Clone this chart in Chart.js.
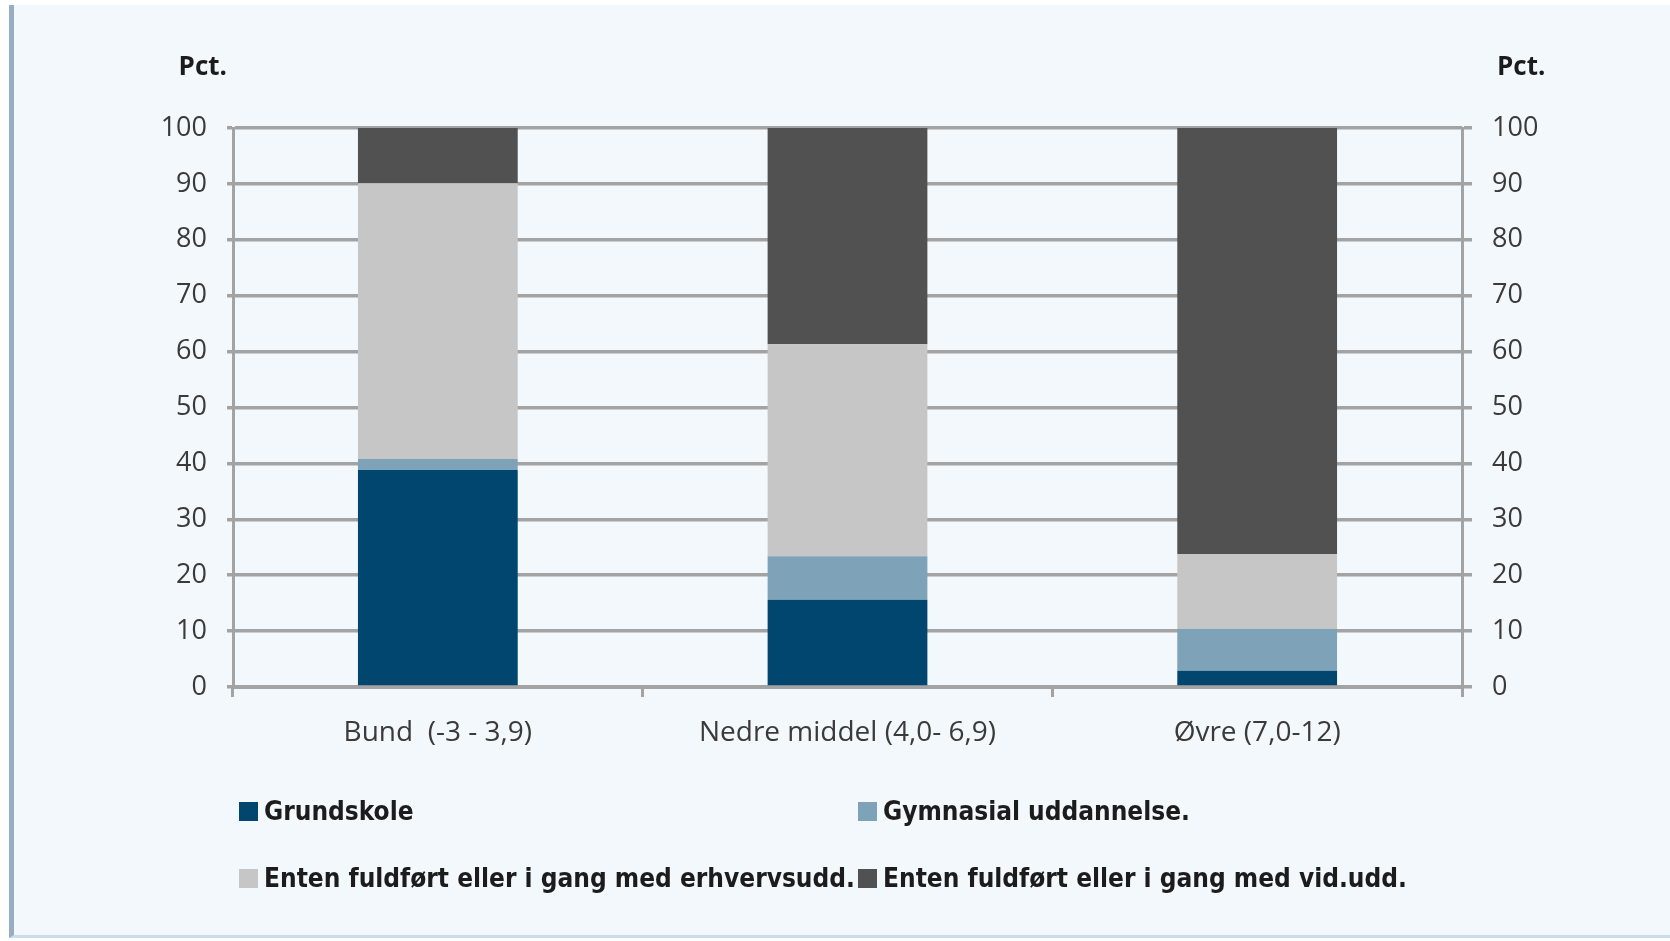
<!DOCTYPE html>
<html>
<head>
<meta charset="utf-8">
<script src="https://cdn.jsdelivr.net/npm/chart.js@4.4.1/dist/chart.umd.min.js"></script>
<style>
  html, body { margin: 0; padding: 0; background: #ffffff; }
  #frame { position: absolute; left: 9px; top: 5px; width: 1661px; height: 933px;
           background: #f3f8fc; border-left: 5px solid #97adc2; border-bottom: 3px solid #c9dcea; box-sizing: border-box; }
  #wrap { position: absolute; left: 0; top: 0; width: 1670px; height: 941px; }
  #legend { position: absolute; left: 0; top: 0; width: 1670px; height: 941px; pointer-events: none;
            font-family: "Liberation Sans Narrow", "DejaVu Sans Condensed", sans-serif; font-weight: bold;
            font-size: 26px; color: #1c1c1c; }
  .li { position: absolute; display: flex; align-items: center; white-space: nowrap; transform: translateY(-50%); }
  .sw { width: 19px; height: 19px; margin-right: 6px; flex: none; }
</style>
</head>
<body>
<div id="frame"></div>
<div id="wrap"><canvas id="c" width="1670" height="941"></canvas></div>
<div id="legend"></div>
<script>
// ---- data ----
const categories = ["Bund  (-3 - 3,9)", "Nedre middel (4,0- 6,9)", "Øvre (7,0-12)"];
const seriesNames = ["Grundskole", "Gymnasial uddannelse.", "Enten fuldført eller i gang med erhvervsudd.", "Enten fuldført eller i gang med vid.udd."];
const grundskole = [38.8, 15.6, 2.9];
const gymnasial = [2.0, 7.8, 7.5];
const erhvervsudd = [49.3, 37.9, 13.4];
const vidudd = [9.9, 38.7, 76.2];
const yTicks = [0, 10, 20, 30, 40, 50, 60, 70, 80, 90, 100];
const axisUnit = "Pct.";

// ---- styles ----
const colors = ["#00466e", "#7ea2b8", "#c6c6c6", "#515151"];
const seriesValues = [grundskole, gymnasial, erhvervsudd, vidudd];

const datasets = seriesNames.map((name, i) => ({
  label: name,
  data: seriesValues[i],
  backgroundColor: colors[i],
  borderWidth: 0,
  barPercentage: 0.39,
  categoryPercentage: 1.0,
  yAxisID: 'y'
}));

const tickFont = { family: "'Open Sans', 'Noto Sans', sans-serif", size: 27 };
const xTickFont = { family: "'Open Sans', 'Noto Sans', sans-serif", size: 28 };
const gridColor = "#a3a3a3";

const pctPlugin = {
  id: 'pct',
  afterDraw(chart) {
    const ctx = chart.ctx, a = chart.chartArea;
    ctx.save();
    ctx.font = "bold 26px 'Open Sans', 'Noto Sans', sans-serif";
    ctx.fillStyle = "#1c1c1c";
    ctx.textBaseline = 'middle';
    ctx.textAlign = 'right';
    ctx.fillText(axisUnit, a.left - 6, a.top - 60);
    ctx.textAlign = 'left';
    ctx.fillText(axisUnit, a.right + 35, a.top - 60);
    ctx.restore();
  }
};

Chart.defaults.color = "#3a3a3a";

new Chart(document.getElementById('c'), {
  type: 'bar',
  data: { labels: categories, datasets },
  options: {
    responsive: false,
    animation: false,
    devicePixelRatio: 1,
    layout: { padding: { left: 0, right: 0, top: 128, bottom: 0 } },
    plugins: { legend: { display: false }, tooltip: { enabled: false } },
    scales: {
      x: {
        stacked: true,
        grid: { display: true, drawOnChartArea: false, offset: true, tickLength: 10, color: gridColor, lineWidth: 3 },
        border: { display: true, color: gridColor, width: 4 },
        ticks: { font: xTickFont, padding: 19, color: "#3a3a3a", maxRotation: 0 },
        afterFit(s) { s.height = 254; }
      },
      y: {
        stacked: true,
        position: 'left',
        min: 0, max: 100,
        afterBuildTicks(s) { s.ticks = yTicks.map(v => ({ value: v })); },
        grid: { color: gridColor, lineWidth: 3.5, tickLength: 6 },
        border: { display: true, color: gridColor, width: 3 },
        ticks: { font: tickFont, padding: 20, color: "#3a3a3a" },
        afterFit(s) { s.width = 233; }
      },
      y2: {
        position: 'right',
        min: 0, max: 100,
        afterBuildTicks(s) { s.ticks = yTicks.map(v => ({ value: v })); },
        grid: { drawOnChartArea: false, color: gridColor, lineWidth: 3.5, tickLength: 10 },
        border: { display: true, color: gridColor, width: 3 },
        ticks: { font: tickFont, padding: 20, color: "#3a3a3a" },
        afterFit(s) { s.width = 208; }
      }
    }
  },
  plugins: [pctPlugin]
});

// ---- legend (HTML, built from series names and colours) ----
const legendPos = [[239, 811], [858, 811], [239, 878], [858, 878]];
const lg = document.getElementById('legend');
seriesNames.forEach((name, i) => {
  const d = document.createElement('div');
  d.className = 'li';
  d.style.left = legendPos[i][0] + 'px';
  d.style.top = legendPos[i][1] + 'px';
  const sw = document.createElement('span');
  sw.className = 'sw';
  sw.style.background = colors[i];
  const t = document.createElement('span');
  t.textContent = name;
  d.appendChild(sw); d.appendChild(t);
  lg.appendChild(d);
});
</script>
</body>
</html>
